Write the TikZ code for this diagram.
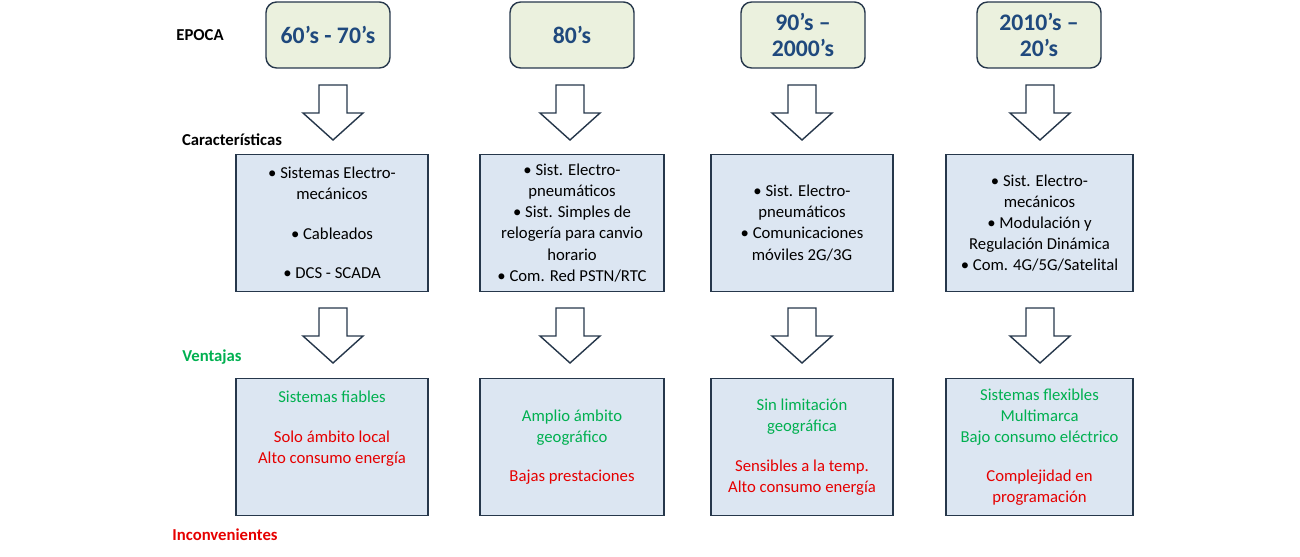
\documentclass[tikz,border=0pt]{standalone}
\usepackage{fontspec}
\setmainfont{Carlito}
\definecolor{epocafill}{RGB}{235,241,222}
\definecolor{boxfill}{RGB}{220,230,242}
\definecolor{boxline}{RGB}{38,55,75}
\definecolor{headtext}{RGB}{31,73,125}
\definecolor{pro}{RGB}{0,176,80}
\definecolor{contra}{RGB}{230,0,0}
\tikzset{
	epoca/.style={draw=boxline,thick,fill=epocafill,rounded corners=6pt,minimum width=2.48cm,minimum height=1.32cm,align=center,font=\fontsize{13.5}{15}\selectfont\bfseries,text=headtext},
	caja/.style={draw=boxline,thick,fill=boxfill,minimum height=2.74cm,align=center,font=\fontsize{9.5}{12}\selectfont},
	flecha/.style={draw=boxline,thick,fill=white,line join=miter},
	rotulo/.style={font=\fontsize{9.5}{11}\selectfont\bfseries}
}
\begin{document}
\begin{tikzpicture}[x=0.02cm,y=-0.02cm]
	\useasboundingbox (0,0) rectangle (1300,557);
	% row labels
	\node[rotulo] (lepoca) at (200,35) {EPOCA};
	\node[rotulo] (lcar) at (232,140) {Características};
	\node[rotulo,text=pro] (lven) at (212,357) {Ventajas};
	\node[rotulo,text=contra] (linc) at (225,535) {Inconvenientes};
	% epochs
	\node[epoca] (e1) at (328,35) {60’s - 70’s};
	\node[epoca] (e2) at (572,35) {80’s};
	\node[epoca] (e3) at (803,35) {90’s –\\2000’s};
	\node[epoca] (e4) at (1039,35) {2010’s –\\20’s};
	% characteristics
	\node[caja,minimum width=3.84cm] (c1) at (332,223) {• Sistemas Electro-\\mecánicos\\[1.1em] • Cableados\\[1.1em] • DCS - SCADA};
	\node[caja,minimum width=3.68cm] (c2) at (572,223) {• Sist. Electro-\\pneumáticos\\• Sist. Simples de\\relogería para canvio\\horario\\• Com. Red PSTN/RTC};
	\node[caja,minimum width=3.64cm] (c3) at (802,223) {• Sist. Electro-\\pneumáticos\\• Comunicaciones\\móviles 2G/3G};
	\node[caja,minimum width=3.74cm] (c4) at (1039.5,223) {• Sist. Electro-\\mecánicos\\• Modulación y\\Regulación Dinámica\\• Com. 4G/5G/Satelital};
	% pros and cons
	\node[caja,minimum width=3.84cm] (v1) at (332,447) {\textcolor{pro}{Sistemas fiables}\\[1.1em] \textcolor{contra}{Solo ámbito local}\\\textcolor{contra}{Alto consumo energía}\\[1.1em]};
	\node[caja,minimum width=3.68cm] (v2) at (572,447) {\textcolor{pro}{Amplio ámbito}\\\textcolor{pro}{geográfico}\\[1.1em] \textcolor{contra}{Bajas prestaciones}};
	\node[caja,minimum width=3.64cm] (v3) at (802,447) {\textcolor{pro}{Sin limitación}\\\textcolor{pro}{geográfica}\\[1.1em] \textcolor{contra}{Sensibles a la temp.}\\\textcolor{contra}{Alto consumo energía}};
	\node[caja,minimum width=3.74cm] (v4) at (1039.5,447) {\textcolor{pro}{Sistemas flexibles}\\\textcolor{pro}{Multimarca}\\\textcolor{pro}{Bajo consumo eléctrico}\\[1.1em] \textcolor{contra}{Complejidad en}\\\textcolor{contra}{programación}};
	% block arrows
	\foreach \x in {333,570,802,1040}
		\foreach \y in {85,308} {
			\draw[flecha] (\x-14,\y) -- (\x+14,\y) -- (\x+14,\y+28) -- (\x+30,\y+28)
				-- (\x,\y+55) -- (\x-30,\y+28) -- (\x-14,\y+28) -- cycle;
		}
\end{tikzpicture}
\end{document}
